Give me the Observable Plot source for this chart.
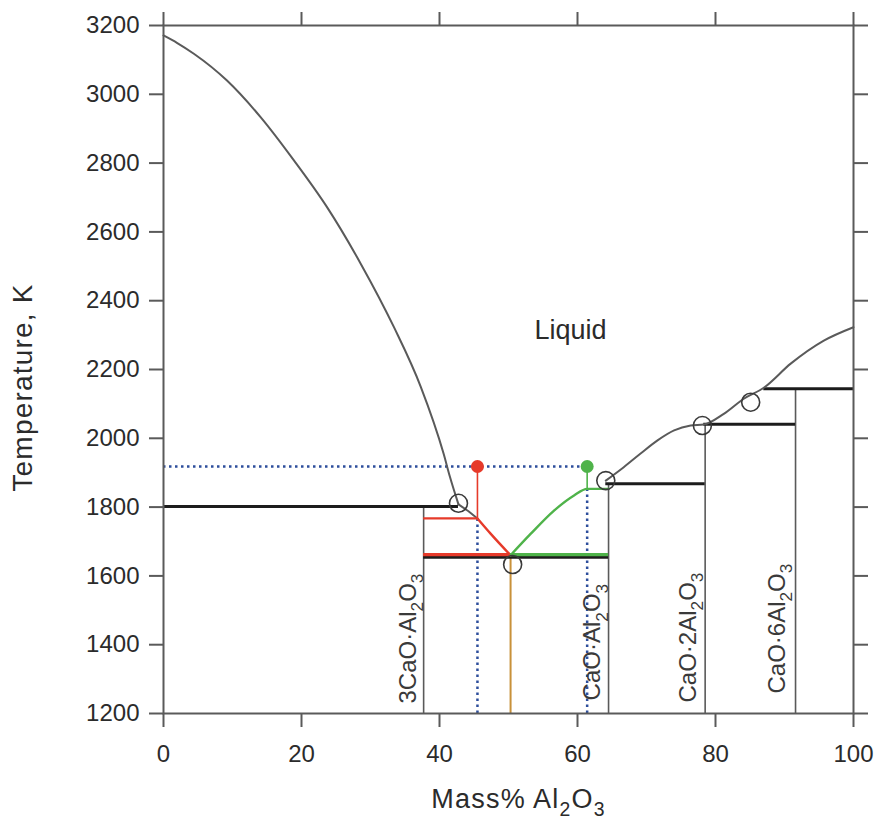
<!DOCTYPE html>
<html><head><meta charset="utf-8">
<script src="https://cdn.jsdelivr.net/npm/d3@7"></script>
<script src="https://cdn.jsdelivr.net/npm/@observablehq/plot@0.6"></script>
<style>body{margin:0;background:#fff} #chart svg{display:block}</style>
</head><body><div id="chart"></div>
<script>
// ---- tick labels ----
const xTicks = [0, 20, 40, 60, 80, 100];
const yTicks = [1200, 1400, 1600, 1800, 2000, 2200, 2400, 2600, 2800, 3000, 3200];

// ---- liquidus curves (mass% Al2O3, K) ----
const liqCaO_x = [0, 2, 4.4, 9.2, 14.1, 18.9, 23.7, 28.6, 33.4, 37.3, 40.6, 41.5, 42.75];
const liqCaO_T = [3171, 3149, 3118, 3040, 2933, 2808, 2672, 2507, 2323, 2149, 1955, 1889, 1808];
const liqPer_x = [42.75, 44.2, 45.5];
const liqPer_T = [1808, 1788, 1767];
const liqC3A_x = [45.5, 47.4, 50.3];
const liqC3A_T = [1767, 1723, 1660];
const liqCA_x = [50.3, 53.2, 56.6, 59.5, 61.4, 64.5];
const liqCA_T = [1660, 1722, 1790, 1834, 1853, 1853];
const liqRight_x = [64.1, 66.7, 69.1, 71.6, 74.0, 76.4, 78.3, 81.2, 84.1, 87.0, 90.9, 95.7, 100];
const liqRight_T = [1877, 1916, 1955, 1994, 2023, 2037, 2040, 2071, 2115, 2147, 2217, 2284, 2323];

// ---- invariant (horizontal) lines: x1, x2, T ----
const invX1 = [0, 37.7, 64.1, 78.3, 87.0];
const invX2 = [42.75, 64.5, 78.5, 91.6, 100];
const invT  = [1802, 1654, 1868, 2041, 2144];

// ---- compound lines: x, top T ----
const compX = [37.7, 64.5, 78.5, 91.6];
const compTop = [1802, 1868, 2041, 2144];
const compLabel = ["3CaO·Al₂O₃", "CaO·Al₂O₃", "CaO·2Al₂O₃", "CaO·6Al₂O₃"];
const compLabelX = [35.5, 62.2, 76.1, 89.0];
const compLabelT = [1229, 1238, 1232, 1258];

// ---- invariant point circles ----
const circX = [42.75, 50.6, 64.1, 78.1, 85.1];
const circT = [1811, 1633, 1877, 2037, 2105];

// ---- highlighted construction ----
const redDot = {x: 45.5, T: 1918};
const greenDot = {x: 61.4, T: 1918};
const redTie = {x1: 37.7, x2: 45.5, T: 1767};
const eutT = 1662;
const eutX = 50.3;
const caX = 64.5;
const c3aX = 37.7;
const greenTieT = 1853;
const yMin = 1200, yMax = 3200;

const liquid = {label: "Liquid", x: 59, T: 2313};

const pts = (xs, ts) => xs.map((x, i) => ({x, T: ts[i]}));
const inv = invX1.map((x1, i) => ({x1, x2: invX2[i], T: invT[i]}));
const comp = compX.map((x, i) => ({x, top: compTop[i]}));
const compLab = compLabel.map((t, i) => ({t, x: compLabelX[i], T: compLabelT[i]}));

const FONT = "'Liberation Sans', Arial, Helvetica, sans-serif";
const GRAY = "#5a5a5a", BLACK = "#1c1c1c", RED = "#e63a2a", GREEN = "#4fb34a", BLUE = "#2d4e9c", ORANGE = "#c8913a", TXT = "#2b2b2b";

const chart = Plot.plot({
  width: 880, height: 821,
  marginTop: 25, marginRight: 27, marginBottom: 108, marginLeft: 163,
  x: {domain: [0, 100]},
  y: {domain: [yMin, yMax]},
  style: {fontFamily: FONT, background: "#fff", color: TXT},
  marks: [
    // blue dotted construction lines
    Plot.ruleY([redDot], {x1: 0, x2: greenDot.x, y: "T", stroke: BLUE, strokeWidth: 2.5, strokeDasharray: "2.5,3.5"}),
    Plot.ruleX([{x: redDot.x, a: yMin, b: redTie.T}, {x: greenDot.x, a: yMin, b: greenTieT}], {x: "x", y1: "a", y2: "b", stroke: BLUE, strokeWidth: 2.5, strokeDasharray: "2.5,3.5"}),
    // compound vertical lines
    Plot.ruleX(comp, {x: "x", y1: yMin, y2: "top", stroke: GRAY, strokeWidth: 1.6}),
    // orange eutectic composition
    Plot.ruleX([eutX], {y1: yMin, y2: eutT, stroke: ORANGE, strokeWidth: 2}),
    // invariant lines
    Plot.ruleY(inv, {x1: "x1", x2: "x2", y: "T", stroke: BLACK, strokeWidth: 3}),
    // liquidus curves
    Plot.line(pts(liqCaO_x, liqCaO_T), {x: "x", y: "T", stroke: GRAY, strokeWidth: 2, curve: "monotone-x"}),
    Plot.line(pts(liqPer_x, liqPer_T), {x: "x", y: "T", stroke: GRAY, strokeWidth: 2, curve: "linear"}),
    Plot.line(pts(liqRight_x, liqRight_T), {x: "x", y: "T", stroke: GRAY, strokeWidth: 2, curve: "monotone-x"}),
    // red construction
    Plot.ruleY([redTie], {x1: "x1", x2: "x2", y: "T", stroke: RED, strokeWidth: 2.2}),
    Plot.ruleY([eutT], {x1: c3aX, x2: eutX, stroke: RED, strokeWidth: 3.2}),
    Plot.ruleX([redDot], {x: "x", y1: redTie.T, y2: "T", stroke: RED, strokeWidth: 1.6}),
    Plot.line(pts(liqC3A_x, liqC3A_T), {x: "x", y: "T", stroke: RED, strokeWidth: 2.4, curve: "monotone-x"}),
    // green construction
    Plot.ruleY([eutT], {x1: eutX, x2: caX, stroke: GREEN, strokeWidth: 3.2}),
    Plot.ruleX([greenDot], {x: "x", y1: greenTieT, y2: "T", stroke: GREEN, strokeWidth: 1.6}),
    Plot.line(pts(liqCA_x, liqCA_T), {x: "x", y: "T", stroke: GREEN, strokeWidth: 2.4, curve: "monotone-x"}),
    // invariant circles
    Plot.dot(pts(circX, circT), {x: "x", y: "T", r: 9, stroke: "#3a3a3a", strokeWidth: 1.6, fill: "none"}),
    // dots
    Plot.dot([redDot], {x: "x", y: "T", r: 6.5, fill: RED}),
    Plot.dot([greenDot], {x: "x", y: "T", r: 6.5, fill: GREEN}),
    // frame & axes
    Plot.frame({stroke: GRAY, strokeWidth: 2}),
    Plot.axisX({ticks: xTicks, anchor: "bottom", tickSize: 14, tickPadding: 17, fontSize: 24, tickFormat: "d", label: null, stroke: GRAY, strokeWidth: 2, fill: TXT}),
    Plot.axisX({ticks: xTicks, anchor: "top", tickSize: 14, tickFormat: () => "", label: null, stroke: GRAY, strokeWidth: 2}),
    Plot.axisY({ticks: yTicks, anchor: "left", tickSize: 14, tickPadding: 10, fontSize: 24, tickFormat: "d", label: null, stroke: GRAY, strokeWidth: 2, fill: TXT}),
    Plot.axisY({ticks: yTicks, anchor: "right", tickSize: 14, tickFormat: () => "", label: null, stroke: GRAY, strokeWidth: 2}),
    // labels
    Plot.text([liquid], {x: "x", y: "T", text: "label", fontSize: 27, fill: TXT}),
    Plot.text(compLab, {x: "x", y: "T", text: "t", rotate: -90, textAnchor: "start", fontSize: 24, fill: "#3a3a3a"}),
    Plot.text(["Temperature, K"], {frameAnchor: "left", textAnchor: "middle", lineAnchor: "middle", dx: -140, dy: 18, rotate: -90, fontSize: 28, fill: TXT}),
    Plot.text(["Mass% Al₂O₃"], {frameAnchor: "bottom", textAnchor: "middle", lineAnchor: "middle", dx: 10, dy: 86, fontSize: 27, fill: TXT})
  ]
});

document.getElementById("chart").appendChild(chart);

// letter spacing on titles to match the wider reference lettering
chart.querySelectorAll("text").forEach(t => {
  const s = t.textContent;
  if (s === "Temperature, K" || s.startsWith("Mass%")) t.setAttribute("letter-spacing", "1.2");
});

// render ₂/₃ as real subscripts using tspans
const SUB = {"₂": "2", "₃": "3"};
chart.querySelectorAll("text").forEach(t => {
  const s = t.textContent;
  if (!/[₂₃]/.test(s)) return;
  const F = parseFloat(getComputedStyle(t).fontSize) || 20;
  while (t.firstChild) t.removeChild(t.firstChild);
  const runs = [];
  for (const ch of s) {
    const sub = ch in SUB;
    const c = sub ? SUB[ch] : ch;
    if (runs.length && runs[runs.length - 1].sub === sub) runs[runs.length - 1].txt += c;
    else runs.push({sub, txt: c});
  }
  let shifted = false;
  for (const r of runs) {
    const ts = document.createElementNS("http://www.w3.org/2000/svg", "tspan");
    ts.textContent = r.txt;
    if (r.sub) {
      ts.setAttribute("font-size", (F * 0.72).toFixed(1));
      if (!shifted) { ts.setAttribute("dy", (F * 0.3).toFixed(1)); shifted = true; }
    } else if (shifted) {
      ts.setAttribute("dy", (-F * 0.3).toFixed(1)); shifted = false;
    }
    t.appendChild(ts);
  }
});
</script>
</body></html>
